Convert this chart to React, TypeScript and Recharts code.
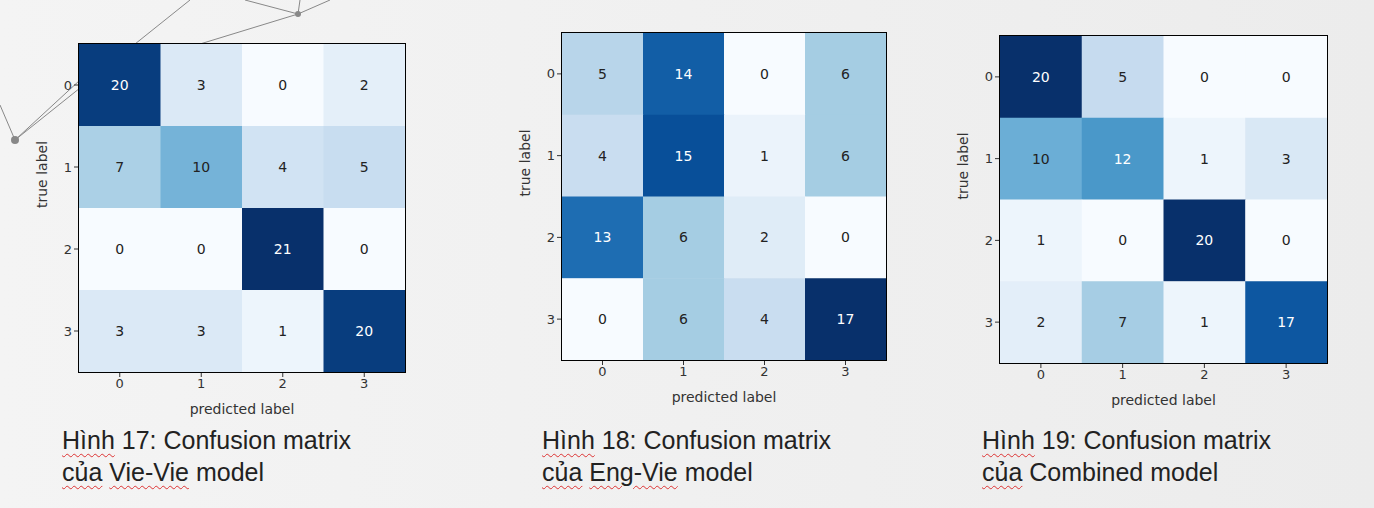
import { ScatterChart, Scatter, XAxis, YAxis } from 'recharts';

const labels = [0, 1, 2, 3];
const vieVie = [
  [20, 3, 0, 2],
  [7, 10, 4, 5],
  [0, 0, 21, 0],
  [3, 3, 1, 20],
];
const engVie = [
  [5, 14, 0, 6],
  [4, 15, 1, 6],
  [13, 6, 2, 0],
  [0, 6, 4, 17],
];
const combined = [
  [20, 5, 0, 0],
  [10, 12, 1, 3],
  [1, 0, 20, 0],
  [2, 7, 1, 17],
];

const blues = ['#f7fbff', '#deebf7', '#c6dbef', '#9ecae1', '#6baed6', '#4292c6', '#2171b5', '#08519c', '#08306b'];

function hex(c: string) {
  return [1, 3, 5].map((i) => parseInt(c.slice(i, i + 2), 16));
}
function blue(t: number) {
  const p = Math.max(0, Math.min(1, t)) * (blues.length - 1);
  const i = Math.min(Math.floor(p), blues.length - 2);
  const f = p - i;
  const a = hex(blues[i]);
  const b = hex(blues[i + 1]);
  return `rgb(${a.map((v, k) => Math.round(v + (b[k] - v) * f)).join(',')})`;
}

function Matrix({ m, left, top, w, h }: { m: number[][]; left: number; top: number; w: number; h: number }) {
  const max = Math.max(...m.flat());
  const min = Math.min(...m.flat());
  const data = m.flatMap((row, r) => row.map((v, c) => ({ x: c, y: r, v })));
  const cw = w / 4;
  const ch = h / 4;
  const yw = 55;
  const xh = 50;
  return (
    <div style={{ position: 'absolute', left: left - yw, top }}>
      <ScatterChart width={w + yw + 10} height={h + xh} margin={{ top: 0, right: 10, left: 0, bottom: 0 }}>
        <XAxis
          type="number" dataKey="x" domain={[-0.5, 3.5]} ticks={labels} height={xh}
          axisLine={false} tick={{ fill: '#333', fontSize: 13 }} tickLine={{ stroke: '#333' }} tickSize={5}
          label={{ value: 'predicted label', position: 'insideBottom', offset: 8, fill: '#333', fontSize: 14 }}
        />
        <YAxis
          type="number" dataKey="y" domain={[-0.5, 3.5]} ticks={labels} reversed width={yw}
          axisLine={false} tick={{ fill: '#333', fontSize: 13 }} tickLine={{ stroke: '#333' }} tickSize={5}
          label={{ value: 'true label', angle: -90, position: 'insideLeft', offset: 18, fill: '#333', fontSize: 14 }}
        />
        <Scatter
          data={data}
          isAnimationActive={false}
          shape={(p: any) => {
            const v = p.payload.v;
            return (
              <g>
                <rect x={p.cx - cw / 2} y={p.cy - ch / 2} width={cw + 0.5} height={ch + 0.5} fill={blue((v - min) / (max - min))} />
                <text x={p.cx} y={p.cy + 5} textAnchor="middle" fontSize={14} fill={v > max / 2 ? '#fff' : '#222'}>{v}</text>
              </g>
            );
          }}
        />
      </ScatterChart>
      <div style={{ position: 'absolute', left: yw - 1, top: -1, width: w, height: h, border: '1px solid #000', pointerEvents: 'none' }} />
    </div>
  );
}

const wavy = { textDecoration: 'underline wavy #d33', textUnderlineOffset: 4, textDecorationThickness: 1 } as const;

function Caption({ left, num, model }: { left: number; num: number; model: string }) {
  return (
    <div style={{ position: 'absolute', left, top: 424, fontFamily: '"Liberation Sans", Arial, sans-serif', fontSize: 25, color: '#222', lineHeight: '32px' }}>
      <div><span style={wavy}>Hình</span> {num}: Confusion matrix</div>
      <div><span style={wavy}>của</span> <span style={model === 'Combined' ? undefined : wavy}>{model}</span> model</div>
    </div>
  );
}

export default function App() {
  return (
    <div style={{ position: 'absolute', left: 0, top: 0, width: 1374, height: 508, overflow: 'hidden', background: 'linear-gradient(90deg, #f4f4f4, #ececec)', fontFamily: '"DejaVu Sans", sans-serif' }}>
      <svg width={400} height={160} style={{ position: 'absolute', left: 0, top: 0 }}>
        <g stroke="#888" strokeWidth={1}>
          <line x1={0} y1={105} x2={15} y2={140} />
          <line x1={15} y1={140} x2={190} y2={0} />
          <line x1={15} y1={140} x2={80} y2={80} />
          <line x1={298} y1={14} x2={245} y2={0} />
          <line x1={298} y1={14} x2={330} y2={0} />
          <line x1={298} y1={14} x2={200} y2={44} />
          <line x1={298} y1={14} x2={300} y2={0} />
        </g>
        <circle cx={15} cy={140} r={4} fill="#888" />
        <circle cx={298} cy={14} r={3} fill="#888" />
      </svg>
      <Matrix m={vieVie} left={79} top={44} w={326} h={328} />
      <Matrix m={engVie} left={562} top={33} w={324} h={327} />
      <Matrix m={combined} left={1000} top={36} w={327} h={327} />
      <Caption left={62} num={17} model="Vie-Vie" />
      <Caption left={542} num={18} model="Eng-Vie" />
      <Caption left={982} num={19} model="Combined" />
    </div>
  );
}
